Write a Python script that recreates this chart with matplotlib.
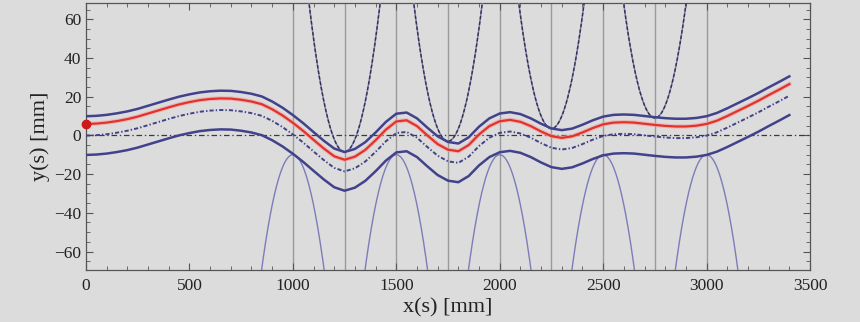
import numpy as np
import matplotlib
matplotlib.use("Agg")
import matplotlib.pyplot as plt
from matplotlib.ticker import MultipleLocator

# ============= DATA =============

# centre line y(s) sampled every 50 mm from 0 to 3400
center_x = np.arange(0, 3401, 50)
center_y = [
    5.9, 6.1, 6.6, 7.4, 8.4, 9.7, 11.3, 12.9, 14.5, 16.0,      # 0 - 450
    17.2, 18.2, 18.8, 19.1, 19.0, 18.4, 17.5, 16.1, 13.5, 10.3,  # 500 - 950
    6.5, 2.3, -2.3, -6.8, -10.8, -12.6, -11.0, -7.5, -2.5, 3.0,  # 1000 - 1450
    7.2, 7.8, 4.8, 0.0, -4.5, -7.4, -8.2, -5.0, 0.5, 4.8,        # 1500 - 1950
    7.3, 8.0, 7.0, 4.8, 2.0, -0.4, -1.3, -0.5, 1.5, 3.8,         # 2000 - 2450
    5.7, 6.6, 6.8, 6.6, 6.0, 5.4, 4.9, 4.6, 4.6, 5.0,            # 2500 - 2950
    5.9, 7.6, 10.0, 12.6, 15.2, 17.9, 20.8, 23.6, 26.5,          # 3000 - 3400
]

# offsets of the other curves relative to the centre line [mm]
upper_offset = 4.0
dashdot_offset = -6.0
lower_offset = -16.0

# upper (dashed) parabolas: vertex positions
top_vertex_x = [1250, 1750, 2250, 2750]
top_vertex_y = [-8.5, -3.0, 3.5, 9.0]

# lower (solid) parabolas: apex positions
bottom_apex_x = [1000, 1500, 2000, 2500, 3000]
bottom_apex_y = [-10, -10, -10, -10, -10]

parabola_curv = 0.0026  # mm^-1

grid_x = [1000, 1250, 1500, 1750, 2000, 2250, 2500, 2750, 3000]

x_ticks = [0, 500, 1000, 1500, 2000, 2500, 3000, 3500]
y_ticks = [-60, -40, -20, 0, 20, 40, 60]

# ============= STYLE =============

bg = "#dcdcdc"
env_color = "#42428c"
red_color = "#e2322c"
para_color = "#7c7cba"

plt.rcParams["font.family"] = ["Liberation Serif", "DejaVu Serif"]
plt.rcParams["lines.scale_dashes"] = False

fig = plt.figure(figsize=(8.6, 3.22), dpi=100, facecolor=bg)
ax = fig.add_axes([0.1, 0.163, 0.8419, 0.8277], facecolor=bg)

xlim = (0, 3500)
ylim = (-69.3, 68.4)

# vertical reference lines
for gx in grid_x:
    ax.axvline(gx, color="#9a9a9a", lw=1.0, zorder=1)

# horizontal axis line at 0
ax.axhline(0, color="#3a3a3a", lw=0.9, ls=(0, (4, 2, 1, 2)), zorder=2)

cy = np.array(center_y)

# dashed parabolas from above
for vx, vy in zip(top_vertex_x, top_vertex_y):
    xs = np.linspace(vx - 200, vx + 200, 300)
    ys = vy + parabola_curv * (xs - vx) ** 2
    ax.plot(xs, ys, color=para_color, lw=1.1, zorder=3)
    ax.plot(xs, ys, color="#333344", lw=1.0, ls=(0, (2.5, 1.5)), zorder=3)

# solid parabolas from below
for ax_x, ax_y in zip(bottom_apex_x, bottom_apex_y):
    xs = np.linspace(ax_x - 170, ax_x + 170, 300)
    ys = ax_y - parabola_curv * (xs - ax_x) ** 2
    ax.plot(xs, ys, color=para_color, lw=1.0, zorder=3)

# envelope and centre curves
ax.plot(center_x, cy + upper_offset, color=env_color, lw=1.8, zorder=4,
        solid_joinstyle="round")
ax.plot(center_x, cy + lower_offset, color=env_color, lw=1.8, zorder=4,
        solid_joinstyle="round")
ax.plot(center_x, cy + dashdot_offset, color=env_color, lw=1.4,
        ls=(0, (3, 1.5, 1, 1.5)), zorder=4)
ax.plot(center_x, cy, color="#f4a0a0", lw=3.2, alpha=0.6, zorder=5,
        solid_joinstyle="round")
ax.plot(center_x, cy, color=red_color, lw=1.6, zorder=5, solid_joinstyle="round")
ax.plot([center_x[0]], [cy[0]], "o", color="#d01818", ms=6, clip_on=False, zorder=6)

ax.set_xlim(*xlim)
ax.set_ylim(*ylim)

ax.set_xticks(x_ticks)
ax.set_yticks(y_ticks)
ax.set_yticklabels([str(t).replace("-", "\u2212") for t in y_ticks])
ax.xaxis.set_minor_locator(MultipleLocator(100))
ax.yaxis.set_minor_locator(MultipleLocator(5))
ax.tick_params(which="both", direction="in", top=True, right=True,
               colors="#555555", labelcolor="#222222", labelsize=12.5)
ax.tick_params(which="major", length=5, width=0.8)
ax.tick_params(which="minor", length=3, width=0.6)
ax.tick_params(axis="x", pad=6)

for sp in ax.spines.values():
    sp.set_color("#555555")
    sp.set_linewidth(0.9)

ax.set_xlabel("x(s) [mm]", fontsize=16, color="#222222", labelpad=3)
ax.set_ylabel("y(s) [mm]", fontsize=16, color="#222222", labelpad=3)

fig.savefig("out.png", dpi=100, facecolor=bg)
